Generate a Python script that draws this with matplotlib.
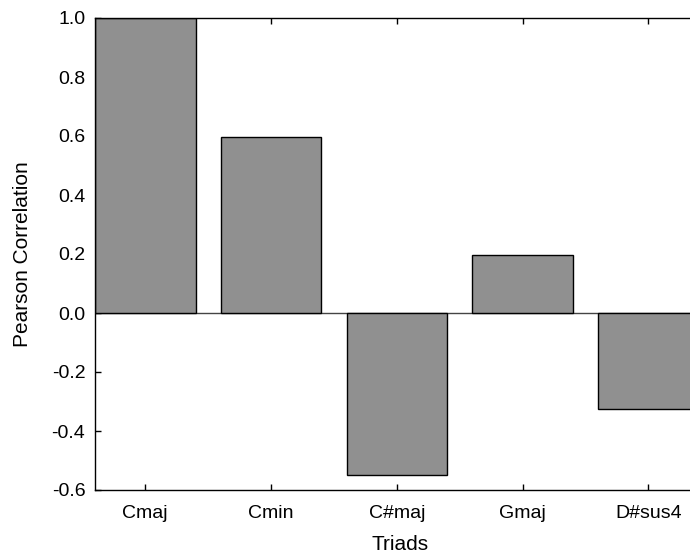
import matplotlib
matplotlib.use("Agg")
import matplotlib.pyplot as plt

# data
triads = ["Cmaj", "Cmin", "C#maj", "Gmaj", "D#sus4"]
correlation = [1.0, 0.595, -0.55, 0.197, -0.325]

plt.rcParams["font.family"] = ["Liberation Sans", "DejaVu Sans"]

fig = plt.figure(figsize=(6.9, 5.55), dpi=100)
# axes run off the right edge of the figure, like the reference
ax = fig.add_axes([95 / 690, 65 / 555, 610 / 690, 472 / 555])

x = list(range(len(triads)))
ax.bar(x, correlation, width=0.8, color="#909090", edgecolor="black", linewidth=1.0, zorder=2)
ax.axhline(0, color="#444444", linewidth=1.0, zorder=1)

ax.set_xlim(-0.4, 4.45)
ax.set_ylim(-0.6, 1.0)
ax.set_xticks(x)
ax.set_xticklabels(triads)
ax.set_yticks([-0.6, -0.4, -0.2, 0.0, 0.2, 0.4, 0.6, 0.8, 1.0])
ax.set_yticklabels(["%.1f" % v for v in ax.get_yticks()])

ax.tick_params(axis="both", direction="in", length=4, width=1, labelsize=14, top=True)
ax.tick_params(axis="y", pad=7)
ax.tick_params(axis="x", pad=11)
for side in ["left", "top", "bottom", "right"]:
    ax.spines[side].set_linewidth(1.0)

ax.set_xlabel("Triads", fontsize=15, labelpad=9)
ax.set_ylabel("Pearson Correlation", fontsize=15, labelpad=14)

fig.savefig("out.png", dpi=100)
